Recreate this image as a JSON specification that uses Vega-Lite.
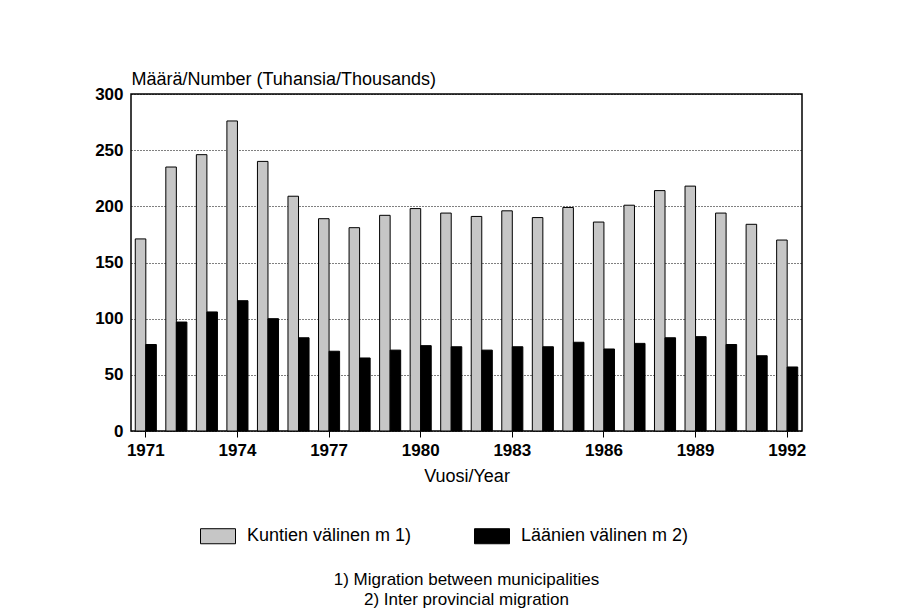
{
  "$schema": "https://vega.github.io/schema/vega-lite/v6.json",
  "autosize": {"type": "none"},
  "width": 671,
  "height": 337,
  "padding": {"left": 131, "top": 94, "right": 101, "bottom": 184},
  "background": "white",
  "config": {
    "font": "Liberation Sans",
    "view": {"stroke": "black", "strokeWidth": 1.5},
    "axis": {"domainColor": "black", "tickColor": "black", "labelColor": "black", "titleColor": "black"}
  },
  "title": {
    "text": ["1) Migration between municipalities", "2) Inter provincial migration"],
    "orient": "bottom",
    "anchor": "middle",
    "frame": "group",
    "fontSize": 17,
    "fontWeight": "normal",
    "lineHeight": 20,
    "color": "black",
    "offset": 26
  },
  "data": {
    "values": [
      {"year": 1971, "series": "Kuntien välinen m 1)", "value": 171},
      {"year": 1971, "series": "Läänien välinen m 2)", "value": 77},
      {"year": 1972, "series": "Kuntien välinen m 1)", "value": 235},
      {"year": 1972, "series": "Läänien välinen m 2)", "value": 97},
      {"year": 1973, "series": "Kuntien välinen m 1)", "value": 246},
      {"year": 1973, "series": "Läänien välinen m 2)", "value": 106},
      {"year": 1974, "series": "Kuntien välinen m 1)", "value": 276},
      {"year": 1974, "series": "Läänien välinen m 2)", "value": 116},
      {"year": 1975, "series": "Kuntien välinen m 1)", "value": 240},
      {"year": 1975, "series": "Läänien välinen m 2)", "value": 100},
      {"year": 1976, "series": "Kuntien välinen m 1)", "value": 209},
      {"year": 1976, "series": "Läänien välinen m 2)", "value": 83},
      {"year": 1977, "series": "Kuntien välinen m 1)", "value": 189},
      {"year": 1977, "series": "Läänien välinen m 2)", "value": 71},
      {"year": 1978, "series": "Kuntien välinen m 1)", "value": 181},
      {"year": 1978, "series": "Läänien välinen m 2)", "value": 65},
      {"year": 1979, "series": "Kuntien välinen m 1)", "value": 192},
      {"year": 1979, "series": "Läänien välinen m 2)", "value": 72},
      {"year": 1980, "series": "Kuntien välinen m 1)", "value": 198},
      {"year": 1980, "series": "Läänien välinen m 2)", "value": 76},
      {"year": 1981, "series": "Kuntien välinen m 1)", "value": 194},
      {"year": 1981, "series": "Läänien välinen m 2)", "value": 75},
      {"year": 1982, "series": "Kuntien välinen m 1)", "value": 191},
      {"year": 1982, "series": "Läänien välinen m 2)", "value": 72},
      {"year": 1983, "series": "Kuntien välinen m 1)", "value": 196},
      {"year": 1983, "series": "Läänien välinen m 2)", "value": 75},
      {"year": 1984, "series": "Kuntien välinen m 1)", "value": 190},
      {"year": 1984, "series": "Läänien välinen m 2)", "value": 75},
      {"year": 1985, "series": "Kuntien välinen m 1)", "value": 199},
      {"year": 1985, "series": "Läänien välinen m 2)", "value": 79},
      {"year": 1986, "series": "Kuntien välinen m 1)", "value": 186},
      {"year": 1986, "series": "Läänien välinen m 2)", "value": 73},
      {"year": 1987, "series": "Kuntien välinen m 1)", "value": 201},
      {"year": 1987, "series": "Läänien välinen m 2)", "value": 78},
      {"year": 1988, "series": "Kuntien välinen m 1)", "value": 214},
      {"year": 1988, "series": "Läänien välinen m 2)", "value": 83},
      {"year": 1989, "series": "Kuntien välinen m 1)", "value": 218},
      {"year": 1989, "series": "Läänien välinen m 2)", "value": 84},
      {"year": 1990, "series": "Kuntien välinen m 1)", "value": 194},
      {"year": 1990, "series": "Läänien välinen m 2)", "value": 77},
      {"year": 1991, "series": "Kuntien välinen m 1)", "value": 184},
      {"year": 1991, "series": "Läänien välinen m 2)", "value": 67},
      {"year": 1992, "series": "Kuntien välinen m 1)", "value": 170},
      {"year": 1992, "series": "Läänien välinen m 2)", "value": 57}
    ]
  },
  "mark": {"type": "bar", "stroke": "black", "strokeWidth": 1},
  "encoding": {
    "x": {
      "field": "year",
      "type": "ordinal",
      "scale": {"paddingInner": 0.31, "paddingOuter": 0.14},
      "axis": {
        "values": [1971, 1974, 1977, 1980, 1983, 1986, 1989, 1992],
        "labelAngle": 0,
        "labelFontSize": 17,
        "labelFontWeight": "bold",
        "labelPadding": 5,
        "tickSize": 6,
        "domain": false,
        "title": "Vuosi/Year",
        "titleFontSize": 18,
        "titleFontWeight": "normal",
        "titlePadding": 9
      }
    },
    "xOffset": {
      "field": "series",
      "type": "nominal",
      "sort": ["Kuntien välinen m 1)", "Läänien välinen m 2)"],
      "scale": {"paddingInner": 0, "paddingOuter": 0}
    },
    "y": {
      "field": "value",
      "type": "quantitative",
      "scale": {"domain": [0, 300], "nice": false},
      "axis": {
        "values": [0, 50, 100, 150, 200, 250, 300],
        "ticks": false,
        "domain": false,
        "labelFontSize": 17,
        "labelFontWeight": "bold",
        "labelPadding": 8,
        "grid": true,
        "gridColor": "black",
        "gridDash": [1, 2],
        "gridWidth": 1,
        "title": "Määrä/Number (Tuhansia/Thousands)",
        "titleAngle": 0,
        "titleAlign": "left",
        "titleBaseline": "alphabetic",
        "titleX": 0,
        "titleY": -10,
        "titleFontSize": 18,
        "titleFontWeight": "normal"
      }
    },
    "color": {
      "field": "series",
      "type": "nominal",
      "sort": ["Kuntien välinen m 1)", "Läänien välinen m 2)"],
      "scale": {"domain": ["Kuntien välinen m 1)", "Läänien välinen m 2)"], "range": ["#c6c6c6", "#000000"]},
      "legend": {
        "orient": "none",
        "legendX": 69,
        "legendY": 424,
        "direction": "horizontal",
        "columns": 2,
        "columnPadding": 60,
        "title": null,
        "symbolType": "M-1,-0.43H1V0.43H-1Z",
        "symbolSize": 1225,
        "symbolStrokeColor": "black",
        "symbolStrokeWidth": 1,
        "symbolOpacity": 1,
        "labelFontSize": 18,
        "labelOffset": 11,
        "labelColor": "black",
        "labelLimit": 300
      }
    }
  }
}
